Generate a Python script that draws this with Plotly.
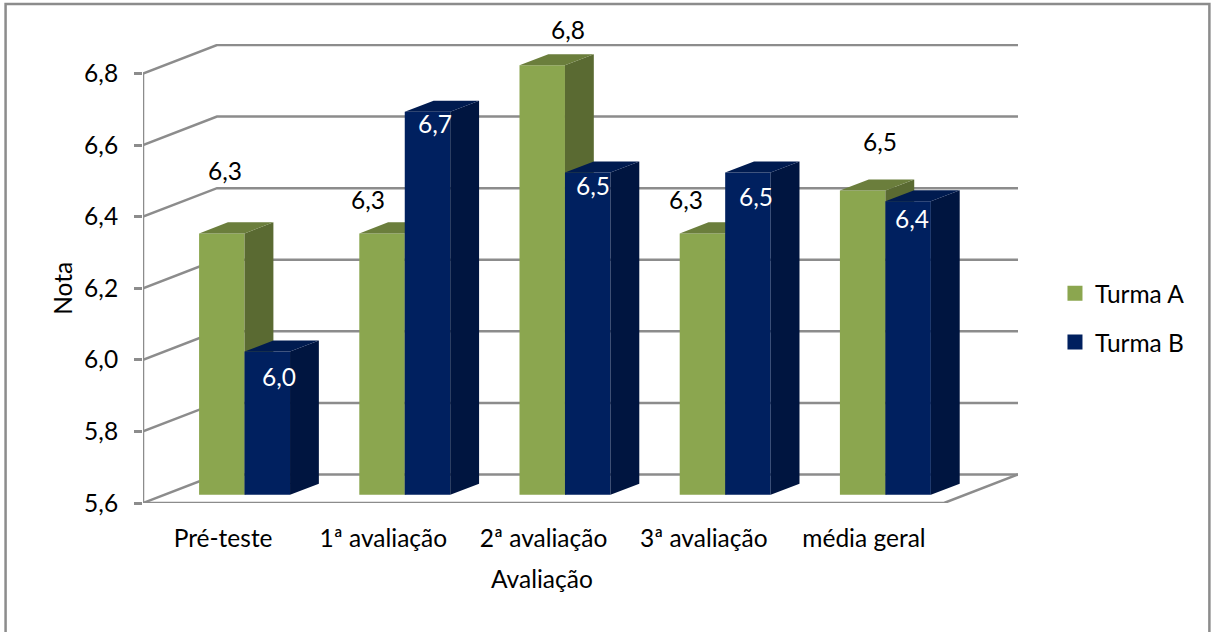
import plotly.graph_objects as go

# Series
categories = ["Pré-teste", "1ª avaliação", "2ª avaliação", "3ª avaliação", "média geral"]
turma_a = [6.33, 6.33, 6.80, 6.33, 6.45]
turma_b = [6.00, 6.67, 6.50, 6.50, 6.42]
y_ticks = [5.6, 5.8, 6.0, 6.2, 6.4, 6.6, 6.8]

# Label nudges in pixels from the top centre of each bar's front face
label_shift_a = [(3, 63), (-14, 34), (26, 36), (-16, 34), (17, 49)]
label_shift_b = [(12, -25), (7, -12), (5, -13), (8, -24), (4, -17)]

# Page and plot geometry
W, H = 1211, 632
L, R, T, B = 142.5, 1018, 44, 503.5
PX_PER_CAT = 160.3
PX_PER_UNIT = 358.3

# Oblique projection: how far one full step into the chart moves a point
WALL_DX = 74 / PX_PER_CAT
WALL_DY = 28.5 / PX_PER_UNIT
BAR_FRONT = 0.29   # depth of the bars' front plane
BAR_DEPTH = 0.39   # thickness of the bars
BAR_W = 45.5 / PX_PER_CAT

x_range = [-0.5, -0.5 + (R - L) / PX_PER_CAT]
y_range = [5.6, 5.6 + (B - T) / PX_PER_UNIT]
x_bar_range = [v - BAR_FRONT * WALL_DX for v in x_range]
y_bar_range = [v - BAR_FRONT * WALL_DY for v in y_range]

GRID = "#8c8c8c"
FONT = "Lato"
FS = 24.5
ddx, ddy = BAR_DEPTH * WALL_DX, BAR_DEPTH * WALL_DY


def faces(values, left):
    """Side and top polygons of the columns whose front-left edge starts at i + left."""
    sx, sy, tx, ty = [], [], [], []
    for i, v in enumerate(values):
        x0, x1 = i + left, i + left + BAR_W
        sx += [x1, x1 + ddx, x1 + ddx, x1, x1, None]
        sy += [y_ticks[0], y_ticks[0] + ddy, v + ddy, v, y_ticks[0], None]
        tx += [x0, x0 + ddx, x1 + ddx, x1, x0, None]
        ty += [v, v + ddy, v + ddy, v, v, None]
    return sx, sy, tx, ty


fig = go.Figure()

# Wall gridlines: oblique on the left wall, level on the back wall
gx, gy = [], []
for v in y_ticks:
    gx += [-0.5, -0.5 + WALL_DX, 4.5 + WALL_DX, None]
    gy += [v, v + WALL_DY, v + WALL_DY, None]
fig.add_trace(go.Scatter(x=gx, y=gy, mode="lines", line=dict(color=GRID, width=2.5),
                         showlegend=False, hoverinfo="skip", cliponaxis=False))

# Value axis line and the front and right edges of the floor
fig.add_trace(go.Scatter(
    x=[-0.5, -0.5, 4.5, 4.5 + WALL_DX],
    y=[y_ticks[-1], y_ticks[0], y_ticks[0], y_ticks[0] + WALL_DY],
    mode="lines", line=dict(color=GRID, width=2.5),
    showlegend=False, hoverinfo="skip", cliponaxis=False))

# Each series sits on its own overlaid axes so it paints over the previous one
series = [
    ("Turma A", turma_a, -BAR_W, "x2", "y2", "#8ba64f", "#5a6a32", "#6b7e3c"),
    ("Turma B", turma_b, 0.0, "x3", "y3", "#00205f", "#001540", "#001b50"),
]
for name, values, left, xa, ya, front, side, top in series:
    fig.add_trace(go.Bar(x=list(range(len(values))), y=[v - y_ticks[0] for v in values],
                         base=y_ticks[0], width=BAR_W, offset=left, marker=dict(color=front, line=dict(width=0)),
                         xaxis=xa, yaxis=ya, name=name, showlegend=False, hoverinfo="skip"))
    sx, sy, tx, ty = faces(values, left)
    for fx, fy, col in ((sx, sy, side), (tx, ty, top)):
        fig.add_trace(go.Scatter(x=fx, y=fy, mode="lines", fill="toself", fillcolor=col,
                                 line=dict(width=0, color=col), xaxis=xa, yaxis=ya,
                                 showlegend=False, hoverinfo="skip", cliponaxis=False))
    # Legend entry with a square key
    fig.add_trace(go.Scatter(x=[None], y=[None], mode="markers", name=name, legendgroup=name,
                             marker=dict(symbol="square", size=15, color=front),
                             xaxis=xa, yaxis=ya, hoverinfo="skip"))

annotations = []
label_sets = [
    (turma_a, -BAR_W / 2, label_shift_a, "#000000", "x2", "y2"),
    (turma_b, BAR_W / 2, label_shift_b, "#ffffff", "x3", "y3"),
]
for values, centre, shifts, colour, xa, ya in label_sets:
    for i, (v, (sx_px, sy_px)) in enumerate(zip(values, shifts)):
        annotations.append(dict(x=i + centre, y=v, xref=xa, yref=ya, xshift=sx_px, yshift=sy_px,
                                xanchor="center", yanchor="middle",
                                text=f"{v:.1f}".replace(".", ","), showarrow=False,
                                font=dict(family=FONT, size=FS, color=colour)))

annotations.append(dict(x=2, y=-(579 - B) / (B - T), xref="x", yref="paper", text="Avaliação", xshift=-2,
                        xanchor="center", yanchor="middle",
                        showarrow=False, font=dict(family=FONT, size=FS, color="#000000")))
annotations.append(dict(x=(62 - L) / (R - L), y=6.2, xref="paper", yref="y", text="Nota", textangle=-90,
                        xanchor="center", yanchor="middle",
                        showarrow=False, font=dict(family=FONT, size=FS, color="#000000")))

hidden = dict(visible=False, fixedrange=True)
fig.update_layout(
    width=W, height=H,
    margin=dict(l=L, r=W - R, t=T, b=H - B, pad=0, autoexpand=False),
    paper_bgcolor="#ffffff", plot_bgcolor="rgba(0,0,0,0)",
    separators=",.",
    font=dict(family=FONT, size=FS, color="#000000"),
    showlegend=True,
    legend=dict(x=(1055 - L) / (R - L), y=(B - 271) / (B - T), xanchor="left", yanchor="top",
                font=dict(family=FONT, size=FS, color="#000000"), tracegroupgap=14,
                bgcolor="rgba(0,0,0,0)", borderwidth=0),
    xaxis=dict(range=x_range, tickmode="array", tickvals=list(range(len(categories))), ticktext=categories,
               ticks="", showgrid=False, zeroline=False, showline=False, ticklabelstandoff=18),
    yaxis=dict(range=y_range, tickmode="array", tickvals=y_ticks, tickformat=".1f", ticks="outside",
               ticklen=8, tickwidth=2.5, tickcolor=GRID, showgrid=False, zeroline=False, showline=False,
               ticklabelstandoff=11),
    xaxis2=dict(range=x_bar_range, overlaying="x", **hidden),
    yaxis2=dict(range=y_bar_range, overlaying="y", **hidden),
    xaxis3=dict(range=x_bar_range, overlaying="x", **hidden),
    yaxis3=dict(range=y_bar_range, overlaying="y", **hidden),
    annotations=annotations,
    # Outer frame of the chart; its bottom edge runs off the page
    shapes=[dict(type="rect", xref="paper", yref="paper",
                 x0=(5 - L) / (R - L), x1=(1209.5 - L) / (R - L),
                 y0=(B - 640) / (B - T), y1=(B - 4) / (B - T),
                 line=dict(color="#8c8c8c", width=2.5), fillcolor="rgba(0,0,0,0)", layer="below")],
)

fig.write_html("out.html", config=dict(displayModeBar=False))
